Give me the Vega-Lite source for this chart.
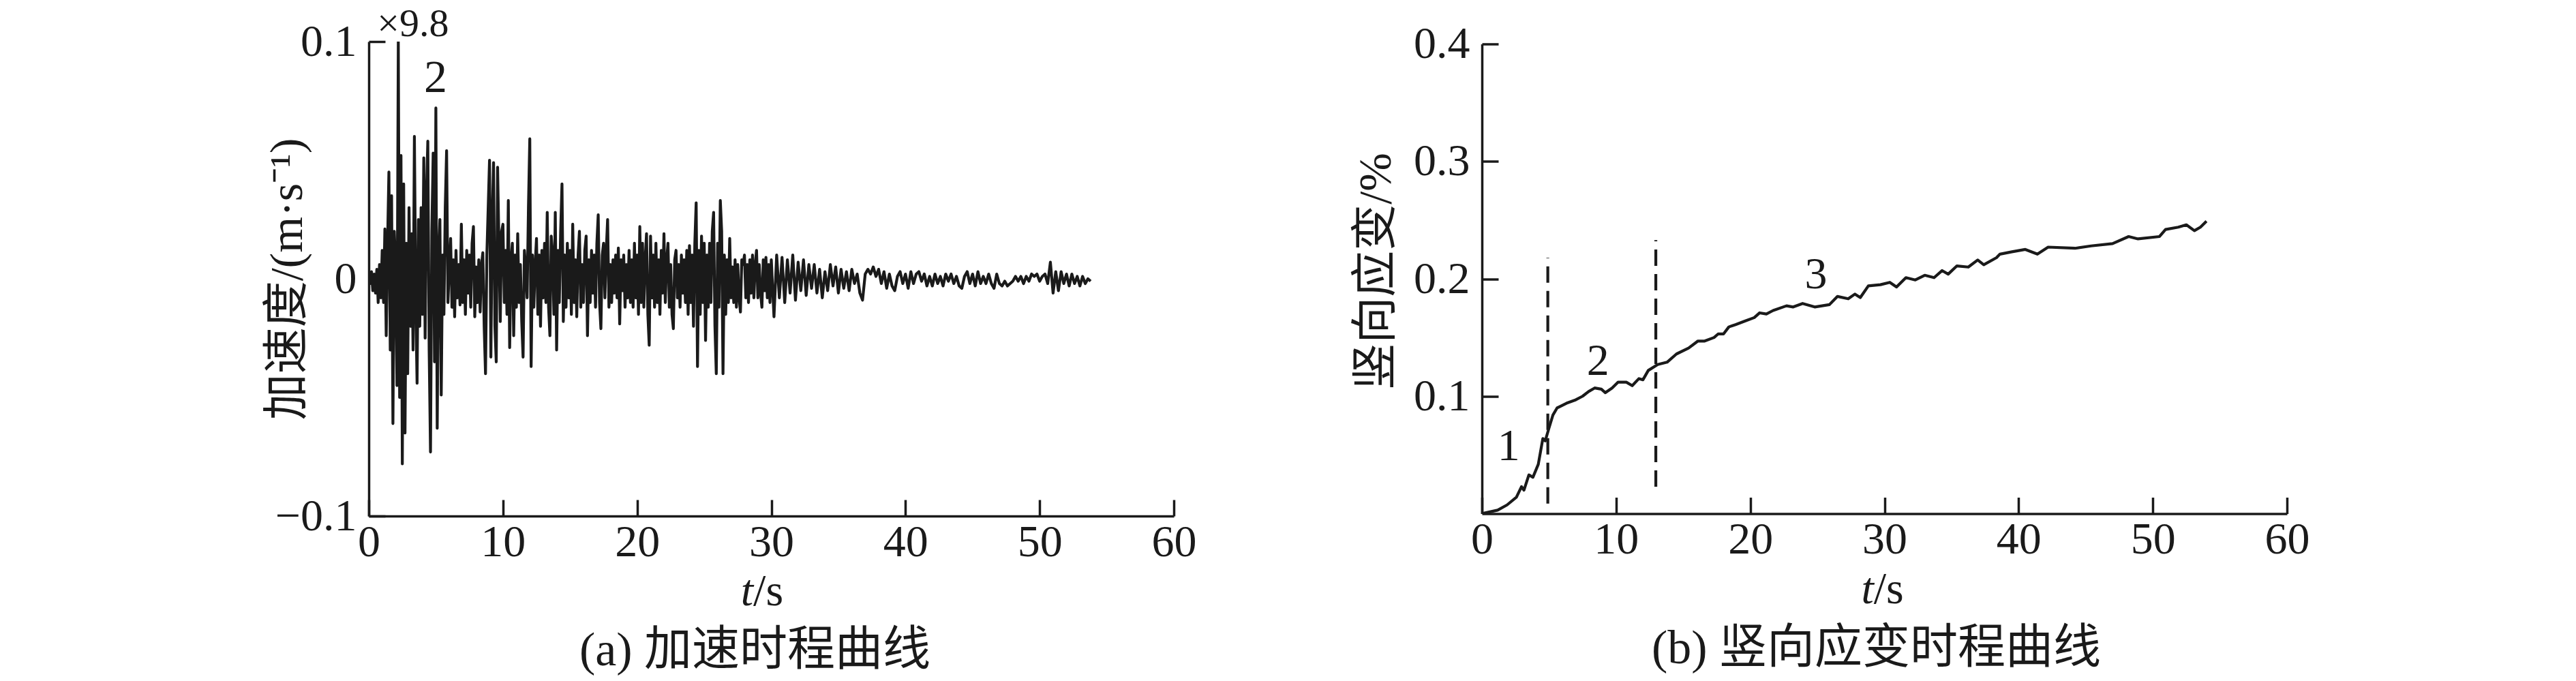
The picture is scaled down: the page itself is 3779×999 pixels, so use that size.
{
 "$schema": "https://vega.github.io/schema/vega-lite/v6.json",
 "background": "white",
 "padding": {"left": 388, "top": 7, "right": 10, "bottom": 5},
 "bounds": "flush",
 "spacing": 452,
 "center": true,
 "config": {
  "font": "Liberation Serif, Noto Sans CJK SC",
  "view": {"stroke": null},
  "axis": {
   "grid": false, "domainColor": "#1a1a1a", "domainWidth": 3.5, "tickColor": "#1a1a1a", "tickWidth": 3.5, "tickSize": -24,
   "labelFont": "Liberation Serif, Noto Sans CJK SC", "labelFontSize": 66, "labelColor": "#1a1a1a",
   "titleFont": "Liberation Serif, Noto Sans CJK SC", "titleFontSize": 68, "titleFontWeight": "normal", "titleColor": "#1a1a1a"
  },
  "axisX": {"labelPadding": 30, "labelFlush": false},
  "axisY": {"labelPadding": 42, "titleAngle": -90, "titleBaseline": "middle", "titleAlign": "center"},
  "title": {"font": "Liberation Serif, Noto Sans CJK SC", "fontSize": 70, "fontWeight": "normal", "color": "#1a1a1a", "orient": "bottom", "anchor": "middle", "frame": "group", "offset": 20}
 },
 "hconcat": [
  {
   "width": 1181, "height": 696,
   "title": {"text": "(a) 加速时程曲线", "dx": -24},
   "layer": [
    {
     "data": {"values": [
{"t":0,"a":0},{"t":0.1,"a":-0.002},{"t":0.2,"a":0.003},{"t":0.3,"a":-0.005},{"t":0.4,"a":0.002},{"t":0.5,"a":-0.006},{"t":0.6,"a":0.004},{"t":0.7,"a":-0.010},{"t":0.8,"a":0.006},{"t":0.9,"a":-0.008},
{"t":1.0,"a":0.012},{"t":1.1,"a":-0.010},{"t":1.2,"a":0.021},{"t":1.3,"a":-0.024},{"t":1.4,"a":0.015},{"t":1.5,"a":0.045},{"t":1.6,"a":-0.030},{"t":1.7,"a":0.035},{"t":1.8,"a":-0.061},{"t":1.9,"a":0.020},
{"t":2.0,"a":0.005},{"t":2.1,"a":-0.045},{"t":2.2,"a":0.100},{"t":2.3,"a":-0.050},{"t":2.4,"a":0.052},{"t":2.5,"a":-0.078},{"t":2.6,"a":0.040},{"t":2.7,"a":-0.065},{"t":2.8,"a":0.015},{"t":2.9,"a":-0.040},
{"t":3.0,"a":0.030},{"t":3.1,"a":-0.020},{"t":3.2,"a":0.019},{"t":3.3,"a":-0.030},{"t":3.4,"a":0.060},{"t":3.5,"a":-0.010},{"t":3.6,"a":-0.044},{"t":3.7,"a":0.025},{"t":3.8,"a":-0.020},{"t":3.9,"a":0.030},
{"t":4.0,"a":-0.015},{"t":4.1,"a":0.051},{"t":4.2,"a":-0.025},{"t":4.3,"a":0.035},{"t":4.4,"a":0.058},{"t":4.5,"a":-0.030},{"t":4.6,"a":-0.073},{"t":4.7,"a":0.020},{"t":4.8,"a":0.053},{"t":4.9,"a":-0.035},
{"t":5.0,"a":0.072},{"t":5.1,"a":-0.063},{"t":5.2,"a":0.010},{"t":5.3,"a":0.025},{"t":5.4,"a":-0.049},{"t":5.5,"a":0.010},{"t":5.6,"a":-0.015},{"t":5.7,"a":0.030},{"t":5.8,"a":0.054},{"t":5.9,"a":-0.010},
{"t":6.0,"a":0.005},{"t":6.1,"a":0.017},{"t":6.2,"a":-0.012},{"t":6.3,"a":0.008},{"t":6.4,"a":-0.016},{"t":6.5,"a":0.012},{"t":6.6,"a":-0.008},{"t":6.7,"a":0.006},{"t":6.8,"a":-0.011},{"t":6.9,"a":0.023},
{"t":7.0,"a":-0.010},{"t":7.1,"a":0.008},{"t":7.2,"a":-0.015},{"t":7.3,"a":0.012},{"t":7.4,"a":-0.006},{"t":7.5,"a":0.010},{"t":7.6,"a":-0.012},{"t":7.7,"a":0.015},{"t":7.8,"a":0.022},{"t":7.9,"a":-0.016},
{"t":8.0,"a":0.005},{"t":8.1,"a":-0.010},{"t":8.2,"a":0.008},{"t":8.3,"a":-0.014},{"t":8.4,"a":0.006},{"t":8.5,"a":0.011},{"t":8.6,"a":-0.020},{"t":8.7,"a":-0.040},{"t":8.8,"a":0.010},{"t":8.9,"a":0.030},
{"t":9.0,"a":0.050},{"t":9.1,"a":-0.033},{"t":9.2,"a":0.025},{"t":9.3,"a":0.049},{"t":9.4,"a":-0.020},{"t":9.5,"a":-0.035},{"t":9.6,"a":0.047},{"t":9.7,"a":0.015},{"t":9.8,"a":-0.018},{"t":9.9,"a":0.020},
{"t":10.0,"a":0.023},{"t":10.1,"a":-0.010},{"t":10.2,"a":0.012},{"t":10.3,"a":-0.015},{"t":10.4,"a":0.033},{"t":10.5,"a":-0.029},{"t":10.6,"a":0.008},{"t":10.7,"a":0.015},{"t":10.8,"a":-0.024},{"t":10.9,"a":0.010},
{"t":11.0,"a":-0.012},{"t":11.1,"a":0.019},{"t":11.2,"a":-0.010},{"t":11.3,"a":0.006},{"t":11.4,"a":-0.018},{"t":11.5,"a":-0.033},{"t":11.6,"a":0.012},{"t":11.7,"a":0.004},{"t":11.8,"a":-0.008},{"t":11.9,"a":0.030},
{"t":12.0,"a":0.059},{"t":12.1,"a":-0.037},{"t":12.2,"a":0.010},{"t":12.3,"a":-0.012},{"t":12.4,"a":0.006},{"t":12.5,"a":0.017},{"t":12.6,"a":-0.015},{"t":12.7,"a":0.010},{"t":12.8,"a":-0.020},{"t":12.9,"a":0.012},
{"t":13.0,"a":-0.008},{"t":13.1,"a":0.015},{"t":13.2,"a":-0.010},{"t":13.3,"a":0.028},{"t":13.4,"a":-0.012},{"t":13.5,"a":-0.024},{"t":13.6,"a":0.018},{"t":13.7,"a":0.010},{"t":13.8,"a":-0.015},{"t":13.9,"a":0.028},
{"t":14.0,"a":-0.030},{"t":14.1,"a":0.012},{"t":14.2,"a":-0.010},{"t":14.3,"a":0.020},{"t":14.4,"a":0.040},{"t":14.5,"a":-0.018},{"t":14.6,"a":0.010},{"t":14.7,"a":-0.012},{"t":14.8,"a":0.015},{"t":14.9,"a":-0.008},
{"t":15.0,"a":0.012},{"t":15.1,"a":-0.015},{"t":15.2,"a":0.023},{"t":15.3,"a":-0.010},{"t":15.4,"a":0.008},{"t":15.5,"a":-0.016},{"t":15.6,"a":0.010},{"t":15.7,"a":0.020},{"t":15.8,"a":-0.012},{"t":15.9,"a":0.006},
{"t":16.0,"a":-0.010},{"t":16.1,"a":0.012},{"t":16.2,"a":0.018},{"t":16.3,"a":-0.024},{"t":16.4,"a":0.008},{"t":16.5,"a":-0.010},{"t":16.6,"a":0.012},{"t":16.7,"a":-0.006},{"t":16.8,"a":0.010},{"t":16.9,"a":-0.012},
{"t":17.0,"a":0.015},{"t":17.1,"a":0.027},{"t":17.2,"a":-0.010},{"t":17.3,"a":-0.021},{"t":17.4,"a":0.010},{"t":17.5,"a":0.015},{"t":17.6,"a":-0.008},{"t":17.7,"a":0.012},{"t":17.8,"a":0.025},{"t":17.9,"a":-0.012},
{"t":18.0,"a":0.006},{"t":18.1,"a":-0.010},{"t":18.2,"a":0.008},{"t":18.3,"a":-0.006},{"t":18.4,"a":0.010},{"t":18.5,"a":-0.008},{"t":18.6,"a":0.013},{"t":18.7,"a":-0.019},{"t":18.8,"a":0.008},{"t":18.9,"a":-0.005},
{"t":19.0,"a":0.010},{"t":19.1,"a":-0.012},{"t":19.2,"a":0.006},{"t":19.3,"a":-0.008},{"t":19.4,"a":0.012},{"t":19.5,"a":-0.010},{"t":19.6,"a":0.008},{"t":19.7,"a":-0.012},{"t":19.8,"a":0.015},{"t":19.9,"a":-0.008},
{"t":20.0,"a":0.010},{"t":20.1,"a":-0.015},{"t":20.2,"a":0.022},{"t":20.3,"a":-0.010},{"t":20.4,"a":0.015},{"t":20.5,"a":-0.012},{"t":20.6,"a":0.008},{"t":20.7,"a":0.019},{"t":20.8,"a":-0.015},{"t":20.9,"a":-0.028},
{"t":21.0,"a":0.018},{"t":21.1,"a":-0.008},{"t":21.2,"a":0.010},{"t":21.3,"a":-0.012},{"t":21.4,"a":0.015},{"t":21.5,"a":-0.010},{"t":21.6,"a":0.008},{"t":21.7,"a":-0.015},{"t":21.8,"a":0.012},{"t":21.9,"a":-0.006},
{"t":22.0,"a":0.019},{"t":22.1,"a":-0.010},{"t":22.2,"a":0.008},{"t":22.3,"a":0.015},{"t":22.4,"a":-0.012},{"t":22.5,"a":0.006},{"t":22.6,"a":-0.015},{"t":22.7,"a":-0.021},{"t":22.8,"a":0.008},{"t":22.9,"a":0.012},
{"t":23.0,"a":-0.008},{"t":23.1,"a":0.006},{"t":23.2,"a":-0.012},{"t":23.3,"a":0.010},{"t":23.4,"a":-0.006},{"t":23.5,"a":0.008},{"t":23.6,"a":-0.010},{"t":23.7,"a":0.012},{"t":23.8,"a":-0.015},{"t":23.9,"a":0.014},
{"t":24.0,"a":-0.010},{"t":24.1,"a":0.010},{"t":24.2,"a":-0.020},{"t":24.3,"a":0.015},{"t":24.4,"a":0.032},{"t":24.5,"a":-0.037},{"t":24.6,"a":0.012},{"t":24.7,"a":-0.015},{"t":24.8,"a":0.018},{"t":24.9,"a":-0.010},
{"t":25.0,"a":0.015},{"t":25.1,"a":-0.026},{"t":25.2,"a":0.010},{"t":25.3,"a":-0.012},{"t":25.4,"a":0.015},{"t":25.5,"a":-0.010},{"t":25.6,"a":0.020},{"t":25.7,"a":0.028},{"t":25.8,"a":-0.020},{"t":25.9,"a":-0.040},
{"t":26.0,"a":0.015},{"t":26.1,"a":-0.012},{"t":26.2,"a":0.033},{"t":26.3,"a":0.020},{"t":26.4,"a":-0.040},{"t":26.5,"a":0.010},{"t":26.6,"a":-0.015},{"t":26.7,"a":0.008},{"t":26.8,"a":-0.010},{"t":26.9,"a":0.017},
{"t":27.0,"a":-0.008},{"t":27.1,"a":0.005},{"t":27.2,"a":-0.010},{"t":27.3,"a":0.008},{"t":27.4,"a":-0.012},{"t":27.5,"a":0.006},{"t":27.6,"a":-0.008},{"t":27.7,"a":-0.014},{"t":27.8,"a":0.008},{"t":27.9,"a":0.006},
{"t":28.0,"a":0.010},{"t":28.1,"a":-0.008},{"t":28.2,"a":0.006},{"t":28.3,"a":-0.010},{"t":28.4,"a":0.008},{"t":28.5,"a":-0.006},{"t":28.6,"a":0.010},{"t":28.7,"a":-0.008},{"t":28.8,"a":0.006},{"t":28.9,"a":0.012},
{"t":29.0,"a":-0.008},{"t":29.1,"a":0.006},{"t":29.2,"a":-0.006},{"t":29.3,"a":-0.012},{"t":29.4,"a":0.008},{"t":29.5,"a":-0.005},{"t":29.6,"a":0.009},{"t":29.7,"a":-0.008},{"t":29.8,"a":0.006},{"t":29.9,"a":-0.010},
{"t":30.0,"a":0.008},{"t":30.2,"a":-0.016},{"t":30.4,"a":0.010},{"t":30.6,"a":-0.008},{"t":30.8,"a":0.009},{"t":31.0,"a":-0.010},{"t":31.2,"a":0.008},{"t":31.4,"a":-0.006},{"t":31.6,"a":0.010},{"t":31.8,"a":-0.009},
{"t":32.0,"a":0.007},{"t":32.2,"a":-0.005},{"t":32.4,"a":0.008},{"t":32.6,"a":-0.007},{"t":32.8,"a":0.006},{"t":33.0,"a":-0.004},{"t":33.2,"a":0.006},{"t":33.4,"a":-0.006},{"t":33.6,"a":0.004},{"t":33.8,"a":-0.008},
{"t":34.0,"a":0.003},{"t":34.2,"a":-0.005},{"t":34.4,"a":0.006},{"t":34.6,"a":-0.003},{"t":34.8,"a":0.005},{"t":35.0,"a":-0.006},{"t":35.2,"a":0.004},{"t":35.4,"a":-0.004},{"t":35.6,"a":0.003},{"t":35.8,"a":-0.005},
{"t":36.0,"a":0.004},{"t":36.2,"a":-0.002},{"t":36.4,"a":0.002},{"t":36.6,"a":-0.006},{"t":36.8,"a":-0.009},{"t":37.0,"a":0.002},{"t":37.2,"a":0.004},{"t":37.4,"a":0.002},{"t":37.6,"a":0.005},{"t":37.8,"a":0.001},
{"t":38.0,"a":0.004},{"t":38.2,"a":-0.002},{"t":38.4,"a":0.003},{"t":38.6,"a":-0.004},{"t":38.8,"a":0.002},{"t":39.0,"a":-0.003},{"t":39.2,"a":-0.005},{"t":39.4,"a":0.001},{"t":39.6,"a":0.003},{"t":39.8,"a":-0.002},
{"t":40.0,"a":0.002},{"t":40.2,"a":-0.004},{"t":40.4,"a":0.003},{"t":40.6,"a":-0.002},{"t":40.8,"a":0.002},{"t":41.0,"a":0.003},{"t":41.2,"a":-0.001},{"t":41.4,"a":0.002},{"t":41.6,"a":-0.003},{"t":41.8,"a":0.001},
{"t":42.0,"a":-0.003},{"t":42.2,"a":0.002},{"t":42.4,"a":-0.002},{"t":42.6,"a":0.001},{"t":42.8,"a":-0.003},{"t":43.0,"a":0.002},{"t":43.2,"a":-0.001},{"t":43.4,"a":0.002},{"t":43.6,"a":-0.002},{"t":43.8,"a":0.001},
{"t":44.0,"a":-0.003},{"t":44.2,"a":-0.004},{"t":44.4,"a":0.001},{"t":44.6,"a":0.003},{"t":44.8,"a":-0.002},{"t":45.0,"a":0.002},{"t":45.2,"a":-0.003},{"t":45.4,"a":0.003},{"t":45.6,"a":-0.002},{"t":45.8,"a":0.001},
{"t":46.0,"a":-0.002},{"t":46.2,"a":0.002},{"t":46.4,"a":-0.002},{"t":46.6,"a":-0.004},{"t":46.8,"a":0.002},{"t":47.0,"a":-0.002},{"t":47.2,"a":-0.003},{"t":47.4,"a":-0.001},{"t":47.6,"a":-0.003},{"t":47.8,"a":-0.002},
{"t":48.0,"a":-0.001},{"t":48.2,"a":0.001},{"t":48.4,"a":-0.001},{"t":48.6,"a":0.001},{"t":48.8,"a":-0.002},{"t":49.0,"a":0.001},{"t":49.2,"a":-0.001},{"t":49.4,"a":0.002},{"t":49.6,"a":0.001},{"t":49.8,"a":0.002},
{"t":50.0,"a":-0.001},{"t":50.2,"a":0.001},{"t":50.4,"a":0.002},{"t":50.6,"a":-0.002},{"t":50.8,"a":0.007},{"t":51.0,"a":-0.006},{"t":51.2,"a":0.003},{"t":51.4,"a":-0.005},{"t":51.6,"a":0.003},{"t":51.8,"a":-0.002},
{"t":52.0,"a":0.002},{"t":52.2,"a":-0.003},{"t":52.4,"a":0.002},{"t":52.6,"a":-0.002},{"t":52.8,"a":0.001},{"t":53.0,"a":-0.003},{"t":53.2,"a":0.001},{"t":53.4,"a":-0.002},{"t":53.6,"a":0.000},{"t":53.8,"a":-0.001}
     ]},
     "mark": {"type": "line", "color": "#1a1a1a", "strokeWidth": 4.2, "strokeJoin": "round", "clip": true},
     "encoding": {
      "x": {"field": "t", "type": "quantitative", "scale": {"domain": [0, 60], "nice": false, "zero": false},
            "axis": {"values": [0, 10, 20, 30, 40, 50, 60], "format": "d", "title": null}},
      "y": {"field": "a", "type": "quantitative", "scale": {"domain": [-0.1, 0.1], "nice": false, "zero": false},
            "axis": {"values": [-0.1, 0, 0.1], "labelExpr": "datum.value == 0 ? '0' : format(datum.value, '.1f')", "title": "加速度/(m·s⁻¹)", "titleX": -119, "titleY": 348}}
     }
    },
    {
     "data": {"values": [{"t": 3.3, "a": 0.1022, "label": "×9.8"}]},
     "mark": {"type": "text", "fontSize": 58, "baseline": "alphabetic", "align": "center", "color": "#1a1a1a", "font": "Liberation Serif"},
     "encoding": {"x": {"field": "t", "type": "quantitative"}, "y": {"field": "a", "type": "quantitative"}, "text": {"field": "label"}}
    },
    {
     "data": {"values": [{"t": 4.98, "a": 0.0787, "label": "2"}]},
     "mark": {"type": "text", "fontSize": 68, "baseline": "alphabetic", "align": "center", "color": "#1a1a1a", "font": "Liberation Serif"},
     "encoding": {"x": {"field": "t", "type": "quantitative"}, "y": {"field": "a", "type": "quantitative"}, "text": {"field": "label"}}
    },
    {
     "data": {"values": [{"t": 28.66, "a": -0.1376, "label": "t"}]},
     "mark": {"type": "text", "fontSize": 66, "fontStyle": "italic", "baseline": "alphabetic", "align": "right", "color": "#1a1a1a", "font": "Liberation Serif"},
     "encoding": {"x": {"field": "t", "type": "quantitative"}, "y": {"field": "a", "type": "quantitative"}, "text": {"field": "label"}}
    },
    {
     "data": {"values": [{"t": 28.66, "a": -0.1376, "label": "/s"}]},
     "mark": {"type": "text", "fontSize": 66, "baseline": "alphabetic", "align": "left", "color": "#1a1a1a", "font": "Liberation Serif"},
     "encoding": {"x": {"field": "t", "type": "quantitative"}, "y": {"field": "a", "type": "quantitative"}, "text": {"field": "label"}}
    }
   ]
  },
  {
   "width": 1181, "height": 689,
   "title": {"text": "(b) 竖向应变时程曲线", "dx": -12},
   "layer": [
    {
     "data": {"values": [
{"t":0,"s":0},{"t":1.17,"s":0.003},{"t":1.87,"s":0.0074},{"t":2.57,"s":0.014},{"t":2.95,"s":0.023},{"t":3.13,"s":0.020},{"t":3.5,"s":0.033},{"t":3.8,"s":0.031},{"t":4.2,"s":0.042},{"t":4.54,"s":0.064},
{"t":4.72,"s":0.062},{"t":5.0,"s":0.073},{"t":5.29,"s":0.084},{"t":5.6,"s":0.090},{"t":6.3,"s":0.094},{"t":7.0,"s":0.097},{"t":7.5,"s":0.100},{"t":7.95,"s":0.104},{"t":8.4,"s":0.107},{"t":8.9,"s":0.106},
{"t":9.2,"s":0.103},{"t":9.7,"s":0.107},{"t":10.15,"s":0.112},{"t":10.76,"s":0.112},{"t":11.2,"s":0.109},{"t":11.7,"s":0.115},{"t":12.0,"s":0.114},{"t":12.4,"s":0.122},{"t":13.1,"s":0.127},{"t":13.8,"s":0.129},
{"t":14.5,"s":0.136},{"t":15.4,"s":0.141},{"t":16.1,"s":0.147},{"t":16.6,"s":0.147},{"t":17.3,"s":0.150},{"t":17.6,"s":0.153},{"t":18.0,"s":0.153},{"t":18.4,"s":0.159},{"t":18.9,"s":0.161},{"t":19.6,"s":0.164},
{"t":20.3,"s":0.167},{"t":20.7,"s":0.171},{"t":21.2,"s":0.170},{"t":21.7,"s":0.173},{"t":22.7,"s":0.177},{"t":23.2,"s":0.176},{"t":23.9,"s":0.179},{"t":24.8,"s":0.176},{"t":25.9,"s":0.178},{"t":26.5,"s":0.185},
{"t":27.3,"s":0.183},{"t":27.8,"s":0.187},{"t":28.2,"s":0.184},{"t":28.8,"s":0.194},{"t":29.7,"s":0.195},{"t":30.4,"s":0.197},{"t":30.9,"s":0.193},{"t":31.6,"s":0.201},{"t":32.3,"s":0.199},{"t":33.0,"s":0.203},
{"t":33.7,"s":0.201},{"t":34.3,"s":0.207},{"t":34.75,"s":0.204},{"t":35.4,"s":0.211},{"t":36.25,"s":0.210},{"t":36.95,"s":0.216},{"t":37.4,"s":0.212},{"t":38.35,"s":0.218},{"t":38.6,"s":0.221},{"t":39.5,"s":0.223},
{"t":40.5,"s":0.225},{"t":41.4,"s":0.221},{"t":42.2,"s":0.227},{"t":44.2,"s":0.226},{"t":45.4,"s":0.228},{"t":47.0,"s":0.230},{"t":48.2,"s":0.236},{"t":48.9,"s":0.234},{"t":50.5,"s":0.236},{"t":50.95,"s":0.242},
{"t":51.9,"s":0.244},{"t":52.5,"s":0.246},{"t":53.1,"s":0.241},{"t":53.55,"s":0.244},{"t":54.0,"s":0.249}
     ]},
     "mark": {"type": "line", "color": "#1a1a1a", "strokeWidth": 4.2, "strokeJoin": "round", "clip": true},
     "encoding": {
      "x": {"field": "t", "type": "quantitative", "scale": {"domain": [0, 60], "nice": false, "zero": false},
            "axis": {"values": [0, 10, 20, 30, 40, 50, 60], "format": "d", "title": null}},
      "y": {"field": "s", "type": "quantitative", "scale": {"domain": [0, 0.4], "nice": false, "zero": false},
            "axis": {"values": [0.1, 0.2, 0.3, 0.4], "format": ".1f", "title": "竖向应变/%", "titleX": -155, "titleY": 333}}
     }
    },
    {
     "data": {"values": [{"t": 4.91, "s": 0.0085, "s2": 0.218}, {"t": 12.96, "s": 0.023, "s2": 0.233}]},
     "mark": {"type": "rule", "strokeDash": [24, 12], "strokeWidth": 4.2, "color": "#1a1a1a"},
     "encoding": {"x": {"field": "t", "type": "quantitative"}, "y": {"field": "s", "type": "quantitative"}, "y2": {"field": "s2"}}
    },
    {
     "data": {"values": [{"t": 2.0, "s": 0.0453, "label": "1"}, {"t": 8.65, "s": 0.1184, "label": "2"}, {"t": 24.9, "s": 0.192, "label": "3"}]},
     "mark": {"type": "text", "fontSize": 66, "baseline": "alphabetic", "align": "center", "color": "#1a1a1a", "font": "Liberation Serif"},
     "encoding": {"x": {"field": "t", "type": "quantitative"}, "y": {"field": "s", "type": "quantitative"}, "text": {"field": "label"}}
    },
    {
     "data": {"values": [{"t": 29.2, "s": -0.0761, "label": "t"}]},
     "mark": {"type": "text", "fontSize": 66, "fontStyle": "italic", "baseline": "alphabetic", "align": "right", "color": "#1a1a1a", "font": "Liberation Serif"},
     "encoding": {"x": {"field": "t", "type": "quantitative"}, "y": {"field": "s", "type": "quantitative"}, "text": {"field": "label"}}
    },
    {
     "data": {"values": [{"t": 29.2, "s": -0.0761, "label": "/s"}]},
     "mark": {"type": "text", "fontSize": 66, "baseline": "alphabetic", "align": "left", "color": "#1a1a1a", "font": "Liberation Serif"},
     "encoding": {"x": {"field": "t", "type": "quantitative"}, "y": {"field": "s", "type": "quantitative"}, "text": {"field": "label"}}
    }
   ]
  }
 ]
}
